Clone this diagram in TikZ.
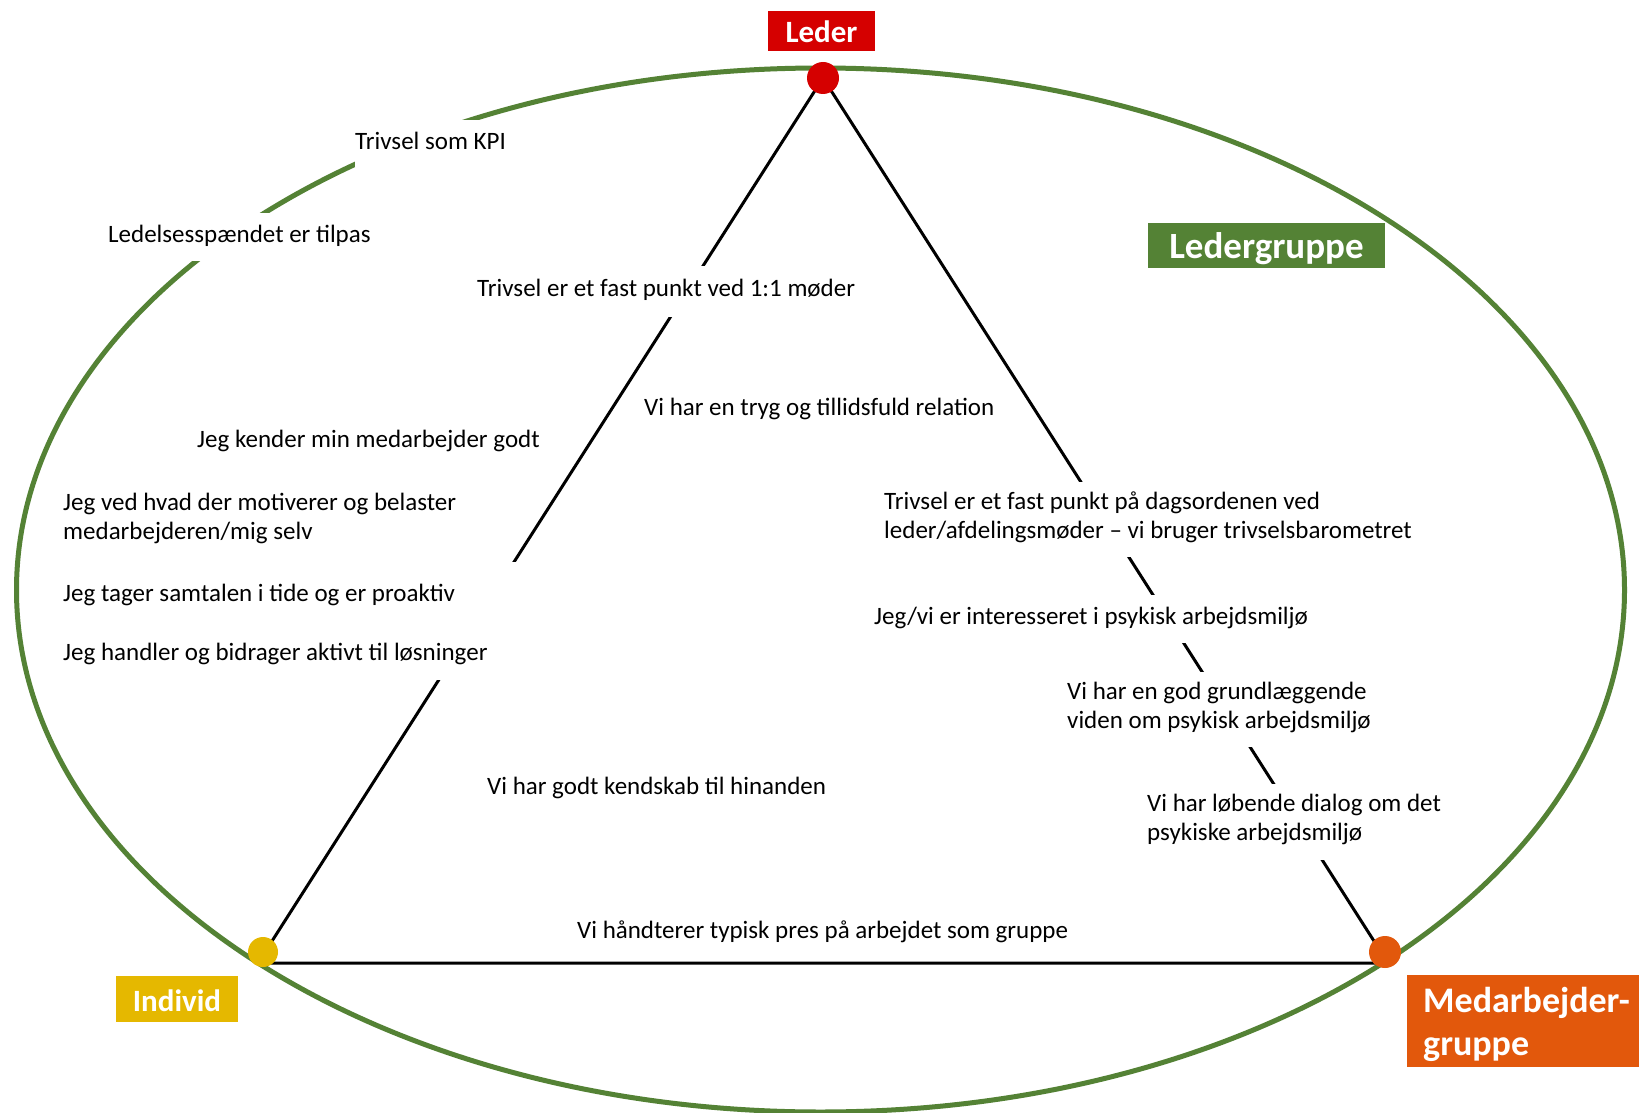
\documentclass[tikz,border=0pt]{standalone}
\usepackage{fontspec}
\setmainfont{Carlito}
\usetikzlibrary{shapes.geometric}
\definecolor{egreen}{RGB}{84,130,53}
\definecolor{lred}{RGB}{213,0,0}
\definecolor{iyellow}{RGB}{229,184,0}
\definecolor{morange}{RGB}{226,88,12}
\begin{document}
\begin{tikzpicture}[x=1pt,y=-1pt,
 body/.style={font=\fontsize{25}{29}\selectfont, inner sep=0pt, anchor=west, align=left, execute at begin node=\strut},
 cut/.style={body, fill=white},
 dot/.style={circle, inner sep=0pt, minimum size=32pt},
 tag/.style={inner sep=0pt, text=white, font=\bfseries\fontsize{31}{36}\selectfont, text height=28pt, text depth=4pt},
 side/.style={line width=3pt, black, line join=round}]
\useasboundingbox (0,0) rectangle (1639,1113);
\fill[white] (0,0) rectangle (1639,1113);
\node[ellipse, draw=egreen, line width=5pt, minimum width=1608pt, minimum height=1044pt, inner sep=0pt] (frame) at (820.5,590) {};
\coordinate (A) at (823,78);
\coordinate (B) at (258,963);
\coordinate (C) at (1388,963);
\draw[side] (A) -- (B) -- (C) -- cycle;
% texts
\node[cut, minimum height=47pt] (kpi) at (355,144) {Trivsel som KPI};
\node[cut, minimum height=48pt] (spaend) at (108,236.5) {Ledelsesspændet er tilpas};
\node[cut, minimum height=51pt] (one) at (477,291) {Trivsel er et fast punkt ved 1:1 møder};
\node[body] (tryg) at (644,410) {Vi har en tryg og tillidsfuld relation};
\node[body] (kender) at (197,442) {Jeg kender min medarbejder godt};
\node[body] (ved) at (63,520.5) {Jeg ved hvad der motiverer og belaster\\medarbejderen/mig selv};
\node[cut, minimum height=68pt] (tager) at (63,595.5) {\makebox[465pt][l]{Jeg tager samtalen i tide og er proaktiv}};
\node[cut, minimum height=50pt] (handler) at (63,654.5) {\makebox[465pt][l]{Jeg handler og bidrager aktivt til løsninger}};
\node[cut, minimum height=75pt] (dagsorden) at (884,519.5) {Trivsel er et fast punkt på dagsordenen ved\\leder/afdelingsmøder – vi bruger trivselsbarometret};
\node[cut, minimum height=48pt] (interesse) at (874,619) {Jeg/vi er interesseret i psykisk arbejdsmiljø};
\node[cut, minimum height=75pt] (viden) at (1067,709.5) {Vi har en god grundlæggende\\viden om psykisk arbejdsmiljø};
\node[body] (kendskab) at (487,789) {Vi har godt kendskab til hinanden};
\node[cut, minimum height=76pt] (dialog) at (1147,821.5) {Vi har løbende dialog om det\\psykiske arbejdsmiljø};
\node[body] (pres) at (577,933) {Vi håndterer typisk pres på arbejdet som gruppe};
% dots
\node[dot, fill=lred] (leder) at (823,78) {};
\node[dot, fill=iyellow, minimum size=30pt] (individ) at (263,952) {};
\node[dot, fill=morange] (medarb) at (1385,952) {};
% tags
\node[tag, fill=lred, minimum width=107pt, minimum height=40pt] (ledertag) at (821.5,31) {Leder};
\node[tag, fill=iyellow, minimum width=122pt, minimum height=46pt] (individtag) at (177,999) {Individ};
\node[tag, fill=egreen, font=\bfseries\fontsize{37}{42}\selectfont, text height=29pt, text depth=4pt, minimum width=237pt, minimum height=45pt] (lgtag) at (1266.5,245.5) {Ledergruppe};
\node[fill=morange, text=white, font=\bfseries\fontsize{36}{43}\selectfont, anchor=north west, inner xsep=16pt, inner ysep=0pt, text width=216pt, minimum height=92pt, text height=27pt, text depth=45pt, align=left] (mgtag) at (1407,975) {Medarbejder-\\gruppe};
\end{tikzpicture}
\end{document}
